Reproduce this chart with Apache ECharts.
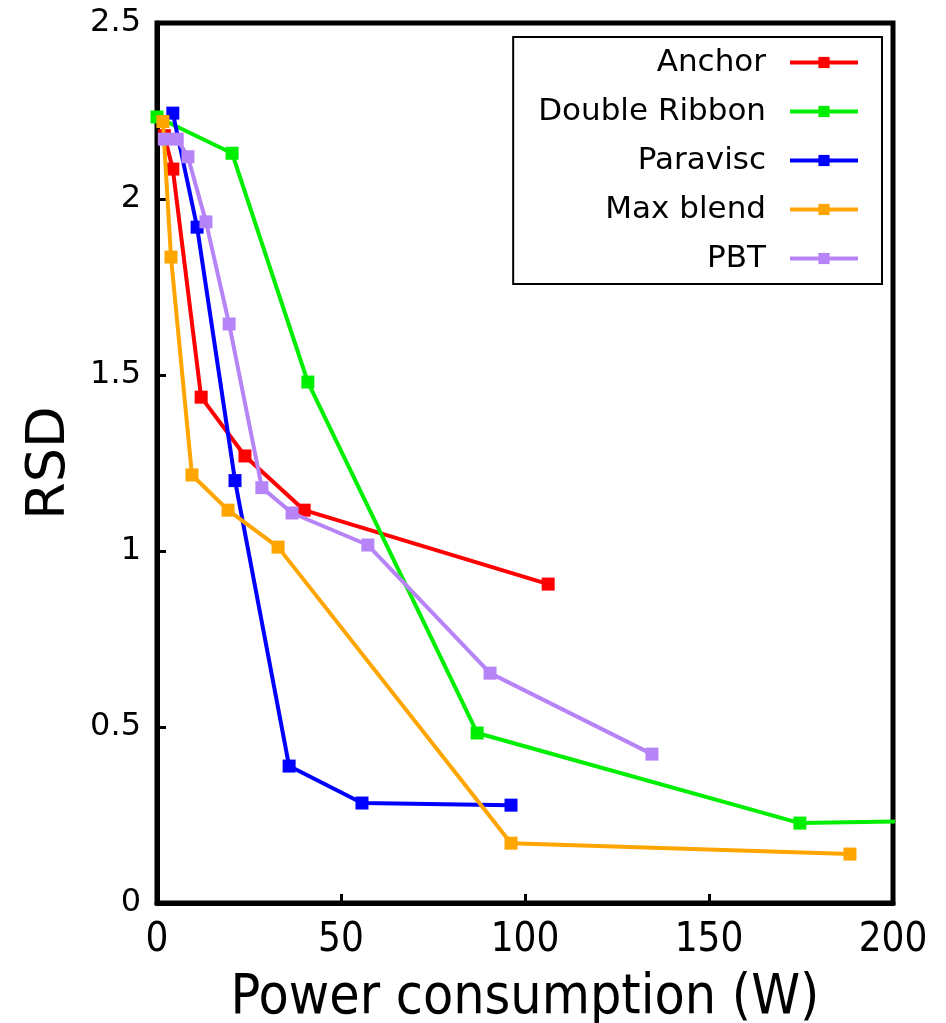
<!DOCTYPE html>
<html>
<head>
<meta charset="utf-8">
<script src="https://cdn.jsdelivr.net/npm/echarts@6/dist/echarts.min.js"></script>
<style>
  html, body { margin: 0; padding: 0; background: #fff; }
  #chart { width: 946px; height: 1023px; }
</style>
</head>
<body>
<div id="chart"></div>
<script>
// RSD versus power consumption for five impeller types: [power (W), RSD]
const seriesNames = ['Anchor', 'Double Ribbon', 'Paravisc', 'Max blend', 'PBT'];
const seriesColors = ['#ff0000', '#00ee00', '#0000ff', '#ffa500', '#b784f7'];

const anchorData = [[2, 2.18], [4.3, 2.085], [12, 1.437], [23.9, 1.27], [40, 1.116], [106.3, 0.906]];
const doubleRibbonData = [[0, 2.233], [20.4, 2.13], [41, 1.48], [87, 0.483], [174.7, 0.227], [215, 0.234]];
const paraviscData = [[4.3, 2.244], [10.9, 1.92], [21.2, 1.2], [35.9, 0.389], [55.7, 0.284], [96.2, 0.278]];
const maxBlendData = [[1.6, 2.22], [3.8, 1.835], [9.5, 1.216], [19.3, 1.116], [32.9, 1.011], [96.2, 0.17], [188.3, 0.139]];
const pbtData = [[2, 2.17], [5.5, 2.17], [8.4, 2.12], [13.3, 1.935], [19.6, 1.645], [28.5, 1.18], [36.7, 1.108], [57.3, 1.017], [90.5, 0.653], [134.5, 0.423]];

const xTicks = [0, 50, 100, 150, 200];
const yTicks = [0, 0.5, 1, 1.5, 2, 2.5];

const allData = [anchorData, doubleRibbonData, paraviscData, maxBlendData, pbtData];

const chart = echarts.init(document.getElementById('chart'), null, { renderer: 'canvas' });

const series = seriesNames.map((name, i) => ({
  name: name,
  type: 'line',
  data: allData[i],
  symbol: 'rect',
  symbolSize: 13,
  clip: true,
  lineStyle: { color: seriesColors[i], width: 4 },
  itemStyle: { color: seriesColors[i] },
  emphasis: { disabled: true },
  z: 2 + i
}));

chart.setOption({
  animation: false,
  backgroundColor: '#ffffff',
  grid: {
    left: 157, right: 53, top: 23, bottom: 120,
    outerBoundsMode: 'none',
    containLabel: false,
    show: true,
    borderColor: '#000',
    borderWidth: 5,
    backgroundColor: 'transparent'
  },
  legend: {
    orient: 'vertical',
    right: 64,
    top: 37,
    align: 'right',
    padding: [10, 22, 10, 25],
    itemGap: 18,
    itemWidth: 68,
    itemHeight: 14,
    borderColor: '#000',
    borderWidth: 2,
    backgroundColor: '#fff',
    lineStyle: { width: 4 },
    data: seriesNames,
    textStyle: {
      fontFamily: 'DejaVu Sans',
      fontSize: 31,
      color: '#000',
      width: 240,
      align: 'right',
      padding: [0, 19, 0, 0]
    }
  },
  xAxis: {
    type: 'value',
    min: xTicks[0],
    max: xTicks[xTicks.length - 1],
    interval: 50,
    name: 'Power consumption (W)',
    nameLocation: 'middle',
    nameGap: 68,
    nameTextStyle: { fontFamily: 'DejaVu Sans Condensed', fontSize: 55, color: '#000' },
    axisLine: { show: true, onZero: false, lineStyle: { color: '#000', width: 5 } },
    axisTick: { show: true, inside: true, length: 9, lineStyle: { color: '#000', width: 3 } },
    axisLabel: { fontFamily: 'DejaVu Sans Condensed', fontSize: 40, color: '#000', margin: 18 },
    splitLine: { show: false }
  },
  yAxis: {
    type: 'value',
    min: yTicks[0],
    max: yTicks[yTicks.length - 1],
    interval: 0.5,
    name: 'RSD',
    nameLocation: 'middle',
    nameRotate: 90,
    nameGap: 80,
    nameTextStyle: { fontFamily: 'DejaVu Sans', fontSize: 54, color: '#000' },
    axisLine: { show: true, onZero: false, lineStyle: { color: '#000', width: 5 } },
    axisTick: { show: true, inside: true, length: 9, lineStyle: { color: '#000', width: 3 } },
    axisLabel: { fontFamily: 'DejaVu Sans', fontSize: 32, color: '#000', margin: 16 },
    splitLine: { show: false }
  },
  series: series
});
</script>
</body>
</html>
